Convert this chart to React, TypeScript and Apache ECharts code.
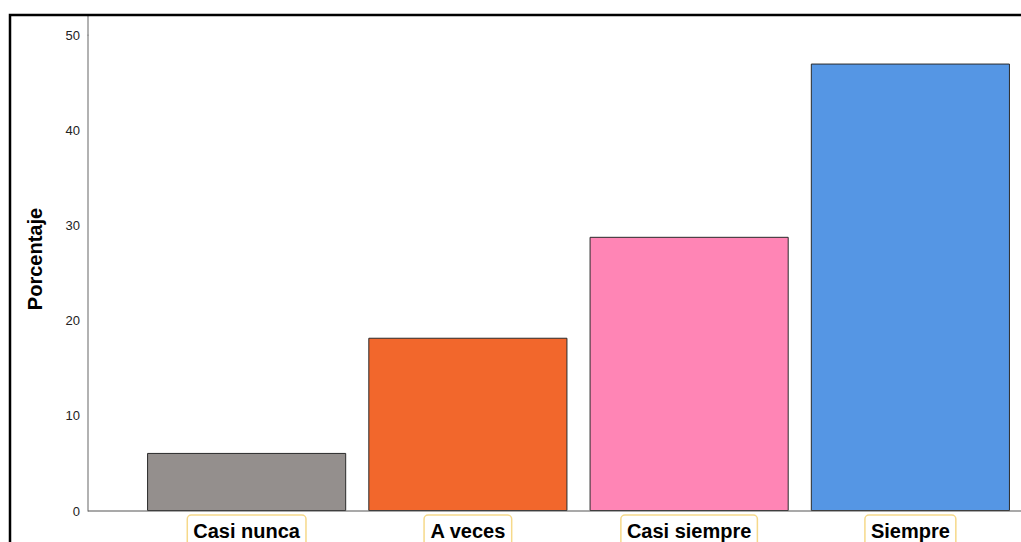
import React, { useEffect, useRef } from "react";
import * as echarts from "echarts";

const categories = ["Casi nunca", "A veces", "Casi siempre", "Siempre"];
const values = [6.1, 18.2, 28.8, 47.0];
const barColors = ["#948f8d", "#f2672c", "#ff85b5", "#5596e4"];
const yTicks = { min: 0, max: 50, interval: 10 };

export default function App() {
  const ref = useRef<HTMLDivElement>(null);
  useEffect(() => {
    if (!ref.current) return;
    const chart = echarts.init(ref.current, null, { renderer: "svg" });
    chart.setOption({
      animation: false,
      backgroundColor: "#ffffff",
      grid: {
        left: 136,
        right: 0,
        top: 35,
        bottom: 31,
        containLabel: false,
        outerBoundsMode: "none",
      },
      xAxis: {
        type: "category",
        data: categories,
        axisLine: { show: false },
        axisTick: { show: false },
        axisLabel: {
          interval: 0,
          margin: 4,
          color: "#000",
          fontFamily: "Liberation Sans, Arial, sans-serif",
          fontWeight: "bold",
          fontSize: 20,
          borderColor: "#f6d98a",
          borderWidth: 1.5,
          borderRadius: 4,
          padding: [6, 6, 6, 6],
        },
      },
      yAxis: {
        type: "value",
        min: yTicks.min,
        max: yTicks.max,
        interval: yTicks.interval,
        offset: 48,
        name: "Porcentaje",
        nameLocation: "middle",
        nameGap: 43,
        nameTextStyle: {
          color: "#000",
          fontFamily: "Liberation Sans, Arial, sans-serif",
          fontWeight: "bold",
          fontSize: 20,
          padding: [0, 0, 0, 28],
        },
        axisLine: { show: true, lineStyle: { color: "#999", width: 1.5 } },
        axisTick: { show: false },
        splitLine: { show: false },
        axisLabel: {
          color: "#222",
          fontFamily: "Liberation Sans, Arial, sans-serif",
          fontSize: 13,
          margin: 8,
        },
      },
      series: [
        {
          type: "bar",
          data: values.map((v, i) => ({
            value: v,
            itemStyle: { color: barColors[i] },
          })),
          barCategoryGap: "10%",
          itemStyle: { borderColor: "#2a2a2a", borderWidth: 1 },
        },
      ],
      graphic: [
        {
          type: "line",
          shape: { x1: 88, y1: 15, x2: 88, y2: 36 },
          style: { stroke: "#999", lineWidth: 1.5 },
          z: 10,
        },
        {
          type: "line",
          shape: { x1: 88, y1: 511, x2: 1021, y2: 511 },
          style: { stroke: "#555", lineWidth: 1.2 },
          z: 10,
        },
        {
          type: "polyline",
          shape: { points: [[10, 542], [10, 15], [1021, 15]] },
          style: { stroke: "#000", lineWidth: 2.5, fill: null },
          z: 10,
        },
      ],
    });
    return () => chart.dispose();
  }, []);
  return (
    <div
      ref={ref}
      style={{ position: "absolute", left: 0, top: 0, width: 1021, height: 542 }}
    />
  );
}
